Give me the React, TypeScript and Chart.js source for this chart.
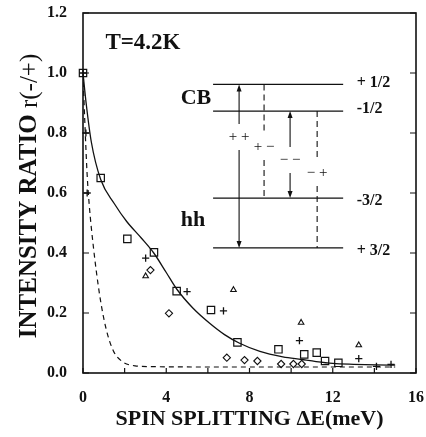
import React, { useEffect, useRef } from "react";
import { Chart, registerables } from "chart.js";

Chart.register(...registerables);

// ---- data ----
const xTickMarks = [0, 2, 4, 6, 8, 10, 12, 14, 16];
const yTickMarks = [0, 0.2, 0.4, 0.6, 0.8, 1.0, 1.2];

// solid fitted curve
const fitX = [0, 0.15, 0.4, 0.85, 1.5, 2.1, 2.8, 3.4, 4.0, 4.5, 5.3, 6.1, 6.8, 7.5, 8.5, 9.6, 10.5, 11.2, 12.0, 13.0, 14.1, 15.0];
const fitY = [1.0, 0.9, 0.77, 0.645, 0.565, 0.505, 0.45, 0.4, 0.335, 0.28, 0.215, 0.165, 0.128, 0.1, 0.072, 0.054, 0.045, 0.038, 0.032, 0.029, 0.027, 0.026];

// dashed curve
const dashX = [0, 0.08, 0.2, 0.3, 0.5, 0.8, 1.1, 1.45, 1.85, 2.5, 3.5, 6, 10, 15];
const dashY = [1.0, 0.85, 0.66, 0.56, 0.42, 0.26, 0.15, 0.075, 0.04, 0.024, 0.021, 0.02, 0.02, 0.02];

// squares
const squareX = [0, 0.85, 2.13, 3.41, 4.5, 6.15, 7.42, 9.39, 10.63, 11.23, 11.63, 12.27];
const squareY = [1.0, 0.65, 0.447, 0.402, 0.273, 0.21, 0.102, 0.079, 0.062, 0.068, 0.04, 0.034];

// plus signs
const plusX = [0, 0.14, 0.2, 3.01, 5.0, 6.75, 10.4, 13.25, 14.1, 14.8];
const plusY = [1.0, 0.8, 0.6, 0.383, 0.271, 0.207, 0.108, 0.048, 0.022, 0.029];

// triangles
const triX = [3.01, 7.23, 10.48, 13.25];
const triY = [0.323, 0.277, 0.168, 0.093];

// diamonds
const diaX = [3.24, 4.13, 6.91, 7.76, 8.38, 9.52, 10.11, 10.51];
const diaY = [0.343, 0.199, 0.051, 0.043, 0.04, 0.03, 0.03, 0.03];

// inset energy-level diagram (in axis units)
const levelY = [0.962, 0.873, 0.583, 0.417];
const levelLabels = ["+ 1/2", "-1/2", "-3/2", "+ 3/2"];
const transitionLabels = ["+ +", "+ \u2212", "\u2212 \u2212", "\u2212 +"];
const transitionX = [7.5, 8.7, 9.95, 11.25];
const transitionUpper = [0, 0, 1, 1];
const transitionLower = [3, 2, 2, 3];
const transitionLabelY = [0.787, 0.753, 0.71, 0.667];
const transitionDashed = [false, true, false, true];

const noteTexts = ["T=4.2K", "CB", "hh"];
const noteX = [2.88, 5.43, 5.29];
const noteY = [1.1, 0.917, 0.51];

const INSET = { x0: 6.25, x1: 12.5, labelX: 13.15 };
const FONT = "'Liberation Serif', 'Times New Roman', serif";
const INK = "#111";

const zip = (xs: number[], ys: number[]) => xs.map((x, i) => ({ x, y: ys[i] }));

const framePlugin = {
  id: "frameAndInset",
  afterDatasetsDraw(chart: any) {
    const { ctx, chartArea } = chart;
    const xs = chart.scales.x;
    const ys = chart.scales.y;
    const px = (v: number) => xs.getPixelForValue(v);
    const py = (v: number) => ys.getPixelForValue(v);
    const { left, right, top, bottom } = chartArea;
    ctx.save();
    ctx.strokeStyle = INK;
    ctx.fillStyle = INK;
    // frame
    ctx.lineWidth = 1.6;
    ctx.strokeRect(left, top, right - left, bottom - top);
    // inward ticks
    ctx.lineWidth = 1.2;
    ctx.beginPath();
    xTickMarks.forEach((v) => {
      const x = px(v);
      ctx.moveTo(x, bottom);
      ctx.lineTo(x, bottom - 5);
    });
    yTickMarks.forEach((v) => {
      const y = py(v);
      ctx.moveTo(left, y);
      ctx.lineTo(left + 6, y);
      ctx.moveTo(right, y);
      ctx.lineTo(right - 6, y);
    });
    ctx.stroke();

    // inset levels
    ctx.lineWidth = 1.1;
    ctx.beginPath();
    levelY.forEach((v) => {
      ctx.moveTo(px(INSET.x0), py(v));
      ctx.lineTo(px(INSET.x1), py(v));
    });
    ctx.stroke();
    ctx.font = `bold 16px ${FONT}`;
    ctx.textAlign = "left";
    ctx.textBaseline = "middle";
    const labelDy = [-2, -2, 3, 3];
    levelLabels.forEach((t, i) => {
      ctx.fillText(t, px(INSET.labelX), py(levelY[i]) + labelDy[i]);
    });

    // transitions
    const gap = 13;
    transitionX.forEach((tx, i) => {
      const x = px(tx);
      const yTop = py(levelY[transitionUpper[i]]);
      const yBot = py(levelY[transitionLower[i]]);
      const yl = py(transitionLabelY[i]);
      ctx.lineWidth = 1.1;
      ctx.setLineDash(transitionDashed[i] ? [6, 4] : []);
      ctx.beginPath();
      ctx.moveTo(x, yTop + (transitionDashed[i] ? 0 : 5));
      ctx.lineTo(x, yl - gap);
      ctx.moveTo(x, yl + gap);
      ctx.lineTo(x, yBot - (transitionDashed[i] ? 0 : 5));
      ctx.stroke();
      ctx.setLineDash([]);
      if (!transitionDashed[i]) {
        ctx.beginPath();
        ctx.moveTo(x, yTop);
        ctx.lineTo(x - 2.5, yTop + 7);
        ctx.lineTo(x + 2.5, yTop + 7);
        ctx.closePath();
        ctx.moveTo(x, yBot);
        ctx.lineTo(x - 2.5, yBot - 7);
        ctx.lineTo(x + 2.5, yBot - 7);
        ctx.closePath();
        ctx.fill();
      }
      ctx.font = `15px ${FONT}`;
      ctx.textAlign = "center";
      ctx.textBaseline = "middle";
      ctx.fillText(transitionLabels[i], x, yl);
    });

    // notes
    ctx.textAlign = "center";
    ctx.textBaseline = "middle";
    noteTexts.forEach((t, i) => {
      ctx.font = `bold ${i === 0 ? 23 : 22}px ${FONT}`;
      ctx.fillText(t, px(noteX[i]), py(noteY[i]));
    });

    // y axis title (mixed weights)
    const part1 = "INTENSITY RATIO ";
    const part2 = "r(-/+)";
    ctx.save();
    ctx.translate(30, (top + bottom) / 2 + 3);
    ctx.rotate(-Math.PI / 2);
    ctx.font = `bold 25px ${FONT}`;
    const w1 = ctx.measureText(part1).width;
    ctx.font = `25px ${FONT}`;
    const w2 = ctx.measureText(part2).width;
    const start = -(w1 + w2) / 2;
    ctx.textAlign = "left";
    ctx.textBaseline = "middle";
    ctx.font = `bold 25px ${FONT}`;
    ctx.fillText(part1, start, 0);
    ctx.font = `25px ${FONT}`;
    ctx.fillText(part2, start + w1, 0);
    ctx.restore();

    ctx.restore();
  },
};

export default function App() {
  const ref = useRef<HTMLCanvasElement | null>(null);
  useEffect(() => {
    if (!ref.current) return;
    Chart.defaults.font.family = FONT;
    Chart.defaults.color = INK;
    const markerBase = {
      type: "scatter" as const,
      showLine: false,
      borderColor: INK,
      backgroundColor: "rgba(0,0,0,0)",
      clip: false as any,
    };
    const chart = new Chart(ref.current, {
      type: "scatter",
      data: {
        datasets: [
          { ...markerBase, data: zip(squareX, squareY), pointStyle: "rect", pointRadius: 5.2, borderWidth: 1.2 },
          { ...markerBase, data: zip(plusX, plusY), pointStyle: "cross", pointRadius: 3.6, borderWidth: 1.3 },
          { ...markerBase, data: zip(triX, triY), pointStyle: "triangle", pointRadius: 3.2, borderWidth: 1.1 },
          { ...markerBase, data: zip(diaX, diaY), pointStyle: "rectRot", pointRadius: 3.6, borderWidth: 1.1 },
          {
            type: "scatter",
            data: zip(fitX, fitY),
            showLine: true,
            pointRadius: 0,
            borderColor: INK,
            borderWidth: 1.3,
            cubicInterpolationMode: "monotone",
          } as any,
          {
            type: "scatter",
            data: zip(dashX, dashY),
            showLine: true,
            pointRadius: 0,
            borderColor: INK,
            borderWidth: 1.2,
            borderDash: [5, 4],
            cubicInterpolationMode: "monotone",
          } as any,
        ],
      },
      options: {
        responsive: false,
        animation: false,
        events: [],
        layout: { padding: { left: 0, right: 10, top: 13, bottom: 0 } },
        plugins: { legend: { display: false }, tooltip: { enabled: false } },
        scales: {
          x: {
            type: "linear",
            min: 0,
            max: 16,
            grid: { display: false, drawTicks: false },
            border: { display: false },
            ticks: {
              stepSize: 4,
              padding: 15,
              color: INK,
              font: { family: FONT, size: 16, weight: "bold" },
              callback: (v: any) => String(v),
            },
            title: {
              display: true,
              text: "SPIN SPLITTING \u0394E(meV)",
              color: INK,
              font: { family: FONT, size: 22, weight: "bold" },
              padding: { top: 0, bottom: 4 },
            },
            afterFit: (s: any) => {
              s.height = 64;
              s.paddingLeft = 0;
              s.paddingRight = 0;
              s.paddingTop = 0;
              s.paddingBottom = 0;
            },
          },
          y: {
            type: "linear",
            min: 0,
            max: 1.2,
            grid: { display: false, drawTicks: false },
            border: { display: false },
            ticks: {
              stepSize: 0.2,
              padding: 16,
              color: INK,
              font: { family: FONT, size: 16, weight: "bold" },
              callback: (v: any) => Number(v).toFixed(1),
            },
            afterFit: (s: any) => {
              s.width = 83;
              s.paddingLeft = 0;
              s.paddingRight = 0;
              s.paddingTop = 0;
              s.paddingBottom = 0;
            },
          },
        },
      } as any,
      plugins: [framePlugin],
    });
    return () => chart.destroy();
  }, []);
  return (
    <div style={{ position: "fixed", left: 0, top: 0, width: 426, height: 437, background: "#fff" }}>
      <canvas ref={ref} width={426} height={437} style={{ width: 426, height: 437, display: "block" }} />
    </div>
  );
}
